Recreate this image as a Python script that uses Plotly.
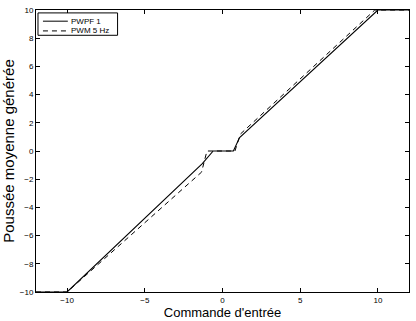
import plotly.graph_objects as go

# PWPF 1 (solid)
pwpf_x = [-12, -10, -1.3, -0.6, 0.7, 1.1, 10, 12]
pwpf_y = [-10, -10, -0.9, 0, 0, 0.95, 10, 10]

# PWM 5 Hz (dashed)
pwm_x = [-12, -10, -1.35, -1.0, 0.8, 1.15, 9.8, 12]
pwm_y = [-10, -10, -1.5, 0, 0, 1.2, 10, 10]

x_ticks = [-10, -5, 0, 5, 10]
y_ticks = [-10, -8, -6, -4, -2, 0, 2, 4, 6, 8, 10]
legend_names = ["PWPF 1", "PWM 5 Hz"]

FONT = "Liberation Sans, Arial"
DASH = "5px,4px"

fig = go.Figure()
fig.add_trace(go.Scatter(x=pwpf_x, y=pwpf_y, mode="lines", name=legend_names[0],
                         line=dict(color="black", width=1.1), showlegend=False))
fig.add_trace(go.Scatter(x=pwm_x, y=pwm_y, mode="lines", name=legend_names[1],
                         line=dict(color="black", width=1, dash=DASH), showlegend=False))

axis_common = dict(showgrid=False, zeroline=False, showline=True, linecolor="black",
                   linewidth=1, mirror="ticks", ticks="inside", ticklen=4,
                   tickcolor="black", tickfont=dict(size=8, color="black", family=FONT))
fig.update_xaxes(range=[-12, 12], tickvals=x_ticks,
                 title=dict(text="Commande d'entrée", standoff=1,
                            font=dict(size=13, color="black", family=FONT)),
                 **axis_common)
fig.update_yaxes(range=[-10, 10], tickvals=y_ticks,
                 title=dict(text="Poussée moyenne générée", standoff=3,
                            font=dict(size=15, color="black", family=FONT)),
                 **axis_common)

# Custom compact legend (MATLAB style)
PX0, PX1, PY0, PY1 = 35, 410, 7, 297
def px(x):
    return (x - PX0) / (PX1 - PX0)
def py(y):
    return (PY1 - y) / (PY1 - PY0)

shapes = [dict(type="rect", xref="paper", yref="paper",
               x0=px(37), x1=px(117), y0=py(33), y1=py(10),
               line=dict(color="black", width=1), fillcolor="white", layer="above")]
annotations = []
rows = [18.5, 28.5]
dashes = ["solid", DASH]
for name, ry, d in zip(legend_names, rows, dashes):
    shapes.append(dict(type="line", xref="paper", yref="paper",
                       x0=px(42), x1=px(67), y0=py(ry), y1=py(ry),
                       line=dict(color="black", width=1, dash=d), layer="above"))
    annotations.append(dict(xref="paper", yref="paper", x=px(68.5), y=py(ry),
                            xanchor="left", yanchor="middle", text=name, showarrow=False,
                            font=dict(size=8, color="black", family=FONT)))

fig.update_layout(
    width=416, height=321,
    margin=dict(l=35, r=6, t=7, b=24),
    paper_bgcolor="white", plot_bgcolor="white",
    showlegend=False,
    shapes=shapes, annotations=annotations,
)

fig.write_html("out.html")
